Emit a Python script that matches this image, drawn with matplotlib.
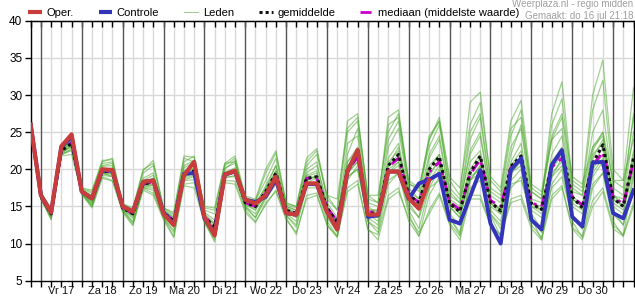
import numpy as np
import matplotlib.pyplot as plt
from matplotlib.lines import Line2D

plt.rcParams['font.family'] = ['Liberation Sans', 'DejaVu Sans']

# 6-hourly steps, step 0 = 16 jul 18:00, step 1 = 17 jul 00:00
days = ['Vr 17', 'Za 18', 'Zo 19', 'Ma 20', 'Di 21', 'Wo 22', 'Do 23',
        'Vr 24', 'Za 25', 'Zo 26', 'Ma 27', 'Di 28', 'Wo 29', 'Do 30']

oper = [26.0,
        16.5, 14.2, 23.1, 24.7,
        17.0, 16.1, 20.0, 19.9,
        15.0, 14.3, 18.3, 18.5,
        14.0, 12.5, 19.2, 21.0,
        13.6, 11.1, 19.3, 19.8,
        15.9, 15.4, 16.5, 19.0,
        14.1, 13.9, 18.1, 18.1,
        14.3, 11.9, 19.7, 22.6,
        13.9, 13.9, 19.7, 19.7,
        16.1, 14.7, 18.5]

controle = [26.0,
            16.5, 14.2, 23.0, 24.4,
            17.0, 16.1, 19.9, 19.8,
            15.0, 14.3, 18.3, 18.5,
            14.2, 12.6, 19.4, 19.5,
            13.4, 11.4, 19.3, 19.7,
            15.9, 15.6, 16.3, 18.6,
            14.1, 13.9, 18.0, 18.0,
            14.3, 12.0, 19.7, 22.5,
            13.6, 13.8, 19.7, 19.7,
            16.0, 18.1, 18.6, 19.4,
            13.2, 12.7, 16.3, 19.9,
            12.7, 10.0, 19.9, 21.5,
            13.2, 11.9, 20.6, 22.6,
            13.6, 12.3, 20.9, 21.0,
            14.1, 13.4, 17.2]

gemiddelde = [26.0,
              16.3, 14.0, 22.5, 23.5,
              17.0, 16.0, 19.7, 19.7,
              14.8, 14.0, 18.0, 18.3,
              14.2, 13.0, 19.3, 19.8,
              13.5, 12.3, 19.3, 19.8,
              15.5, 15.0, 17.0, 19.5,
              14.5, 14.0, 18.8, 19.0,
              14.8, 12.8, 20.0, 22.0,
              14.0, 14.2, 20.5, 22.0,
              16.5, 15.5, 20.0, 21.7,
              15.4, 14.3, 19.5, 21.8,
              15.6, 14.4, 20.4, 21.8,
              15.4, 14.6, 20.6, 22.4,
              16.3, 14.8, 20.8, 23.3,
              16.1, 15.0, 21.5]

mediaan = [26.0,
           16.3, 14.0, 22.6, 23.6,
           17.0, 16.0, 19.8, 19.6,
           14.8, 14.0, 18.0, 18.3,
           14.2, 13.1, 19.3, 19.7,
           13.6, 12.4, 19.4, 19.8,
           15.5, 15.0, 16.8, 19.3,
           14.5, 14.1, 18.8, 18.8,
           14.9, 13.0, 19.8, 21.6,
           14.2, 14.3, 20.3, 21.5,
           16.5, 15.6, 19.6, 21.0,
           15.6, 14.6, 19.3, 21.3,
           15.8, 15.0, 20.2, 21.2,
           15.5, 15.0, 20.3, 21.5,
           16.3, 15.2, 20.5, 22.3,
           16.3, 15.3, 21.0]

leden = [
    [26.5, 16.5, 14.2, 22.8, 24.0, 17.2, 16.5, 20.5, 20.8, 15.0, 14.2, 18.8, 19.5,
     14.5, 13.5, 20.2, 21.0, 14.0, 12.8, 20.0, 21.2, 15.8, 15.5, 17.5, 20.5,
     15.0, 14.5, 19.5, 20.5, 15.5, 13.5, 22.0, 25.5, 15.5, 15.0, 24.0, 26.5,
     17.5, 16.0, 22.0, 24.5, 16.5, 15.5, 24.0, 27.0, 17.0, 16.0, 23.0, 25.5,
     16.0, 15.5, 26.0, 29.5, 18.0, 17.0, 28.0, 32.0, 18.5, 17.5, 27.0],
    [25.8, 16.2, 13.2, 21.8, 22.0, 16.6, 14.8, 18.8, 18.4, 14.2, 12.4, 17.2, 16.5,
     13.2, 10.8, 17.8, 17.5, 12.8, 10.5, 18.2, 18.0, 14.2, 12.8, 15.5, 17.0,
     13.2, 11.5, 16.0, 16.5, 12.5, 11.0, 17.5, 18.5, 11.8, 11.2, 16.5, 17.5,
     13.0, 11.0, 14.5, 16.8, 12.8, 11.0, 16.5, 16.5, 12.5, 11.2, 16.0, 16.5,
     12.5, 10.8, 16.5, 17.8, 12.2, 11.0, 15.8, 17.5, 12.5, 11.2, 15.5],
    [26.2, 16.4, 14.0, 22.5, 23.5, 17.0, 16.0, 19.8, 19.8, 14.8, 14.0, 18.0, 18.5,
     14.2, 13.0, 19.5, 20.0, 13.5, 12.0, 19.5, 20.0, 15.5, 15.0, 17.2, 19.8,
     14.5, 14.0, 19.0, 19.5, 15.0, 13.0, 21.0, 22.5, 14.5, 14.5, 21.0, 22.5,
     16.8, 15.5, 20.5, 22.0, 15.5, 14.5, 20.0, 22.0, 15.8, 14.5, 20.5, 22.5,
     15.5, 15.0, 21.0, 23.0, 16.5, 15.0, 21.5, 24.0, 16.5, 15.5, 22.5],
    [27.3, 16.8, 14.8, 23.2, 24.8, 17.5, 17.2, 21.2, 21.3, 15.3, 14.6, 19.8, 21.2,
     14.8, 14.2, 21.8, 21.6, 14.8, 14.5, 20.8, 21.0, 16.2, 15.8, 19.5, 22.2,
     15.4, 15.0, 21.0, 22.5, 16.0, 14.5, 26.5, 27.5, 16.0, 15.5, 27.0, 28.0,
     18.2, 17.0, 24.5, 26.5, 18.5, 16.5, 29.0, 30.4, 18.5, 17.0, 25.5, 27.0,
     17.5, 16.5, 24.0, 25.5, 17.0, 16.5, 23.0, 24.5, 16.5, 16.0, 25.0],
    [25.6, 16.0, 13.5, 22.0, 22.5, 16.8, 15.2, 19.2, 19.0, 14.5, 12.8, 17.5, 17.2,
     13.5, 11.5, 18.5, 18.6, 13.0, 10.8, 19.0, 19.0, 14.8, 13.5, 16.0, 18.0,
     13.8, 12.2, 17.5, 17.5, 13.0, 11.0, 18.5, 20.5, 13.0, 11.5, 18.0, 19.5,
     14.0, 11.0, 16.5, 19.0, 13.5, 11.2, 18.5, 19.5, 13.8, 11.0, 17.5, 19.0,
     13.5, 10.5, 18.0, 20.0, 13.0, 10.8, 17.5, 19.5, 13.0, 11.0, 19.0],
    [26.0, 16.3, 14.1, 22.7, 23.9, 17.0, 16.2, 20.2, 20.0, 14.9, 14.1, 18.2, 18.8,
     14.3, 13.2, 19.8, 20.5, 13.8, 12.5, 19.2, 19.8, 15.6, 15.2, 17.0, 19.2,
     14.8, 14.2, 18.5, 19.2, 14.5, 12.5, 20.5, 22.0, 14.2, 13.5, 20.5, 23.0,
     16.0, 14.5, 21.5, 24.0, 16.0, 15.0, 22.5, 25.0, 16.5, 15.5, 22.0, 26.0,
     17.0, 16.0, 27.5, 31.8, 18.5, 17.5, 30.0, 34.7, 20.0, 18.5, 31.0],
    [25.9, 16.1, 13.8, 21.9, 22.8, 16.9, 15.6, 19.4, 19.2, 14.6, 13.6, 17.6, 17.8,
     13.8, 12.4, 18.8, 19.2, 13.2, 11.6, 19.5, 19.6, 15.2, 14.5, 16.8, 19.0,
     14.2, 13.5, 18.5, 19.0, 14.5, 12.0, 19.5, 21.0, 14.0, 13.0, 19.5, 21.0,
     15.5, 13.5, 19.5, 21.0, 15.0, 13.5, 18.5, 20.5, 14.5, 13.0, 19.5, 21.0,
     14.5, 13.5, 19.0, 21.5, 15.0, 14.0, 20.0, 22.0, 15.0, 14.0, 20.5],
    [26.8, 16.6, 14.5, 23.0, 24.5, 17.3, 16.8, 20.8, 21.0, 15.2, 14.4, 19.5, 20.5,
     14.6, 13.8, 21.0, 21.8, 14.5, 14.0, 20.5, 21.5, 16.0, 15.8, 18.5, 21.5,
     15.2, 14.8, 20.5, 22.0, 16.5, 14.5, 25.0, 26.5, 16.5, 15.5, 26.0, 27.0,
     18.0, 17.5, 23.0, 26.0, 17.5, 16.0, 25.0, 27.5, 17.5, 16.5, 24.5, 28.0,
     17.0, 16.0, 24.0, 27.0, 17.5, 16.5, 25.0, 28.0, 17.5, 16.5, 27.5],
    [26.1, 16.2, 13.9, 22.3, 23.2, 16.8, 15.0, 19.5, 19.4, 14.7, 13.8, 17.8, 18.0,
     14.0, 12.6, 18.6, 19.0, 13.4, 11.2, 18.8, 19.2, 15.0, 14.0, 16.2, 18.5,
     14.0, 13.0, 17.8, 18.2, 14.0, 12.2, 19.0, 20.0, 13.5, 12.5, 18.5, 19.5,
     15.0, 13.5, 17.5, 18.5, 14.0, 12.5, 17.5, 18.5, 14.0, 12.5, 18.0, 18.5,
     14.0, 12.0, 17.5, 19.0, 13.5, 12.0, 18.0, 19.5, 14.0, 12.5, 17.0],
    [26.4, 16.4, 14.4, 22.6, 23.8, 17.1, 16.4, 20.4, 20.5, 15.0, 14.3, 18.5, 19.2,
     14.4, 13.5, 20.5, 21.2, 14.2, 13.2, 20.2, 20.8, 15.8, 15.2, 17.8, 20.5,
     15.0, 14.5, 20.0, 21.0, 15.0, 13.0, 23.5, 24.5, 15.0, 14.0, 23.0, 25.5,
     17.0, 16.0, 24.0, 26.5, 17.0, 15.5, 22.0, 24.5, 16.0, 14.5, 21.0, 23.5,
     15.5, 14.5, 22.0, 24.5, 16.0, 15.0, 22.5, 25.0, 16.0, 15.0, 22.0],
    [26.0, 16.3, 14.0, 22.4, 23.4, 17.0, 15.8, 19.6, 19.6, 14.8, 13.9, 17.9, 18.2,
     14.1, 12.8, 19.2, 19.8, 13.6, 12.2, 19.2, 19.8, 15.5, 14.8, 17.0, 19.5,
     14.6, 13.8, 18.8, 19.0, 14.8, 12.8, 20.0, 22.0, 14.0, 14.0, 20.5, 22.0,
     16.5, 15.0, 19.0, 21.5, 15.5, 14.0, 19.5, 21.5, 15.5, 14.5, 20.5, 21.5,
     15.0, 14.5, 20.0, 22.0, 16.0, 15.0, 20.5, 23.0, 16.0, 15.0, 21.0],
    [25.7, 16.1, 13.6, 22.1, 22.6, 16.7, 15.0, 19.0, 18.5, 14.4, 12.6, 17.4, 16.8,
     13.4, 11.0, 18.0, 18.2, 13.0, 10.2, 18.5, 18.4, 14.5, 13.0, 15.2, 17.2,
     13.5, 11.2, 16.5, 16.8, 12.5, 10.8, 17.0, 18.0, 12.0, 10.5, 16.0, 17.0,
     13.5, 11.5, 14.0, 16.5, 12.5, 10.5, 16.0, 16.0, 12.5, 11.0, 15.5, 16.0,
     12.0, 10.5, 16.0, 17.5, 12.0, 10.5, 15.0, 17.0, 12.0, 11.0, 15.0],
    [26.6, 16.7, 14.6, 22.9, 24.2, 17.4, 17.0, 21.0, 21.5, 15.4, 14.8, 20.0, 20.8,
     14.8, 14.0, 21.5, 21.0, 15.0, 14.8, 20.8, 21.8, 16.4, 16.0, 20.0, 22.5,
     15.5, 15.0, 21.5, 22.8, 16.5, 16.0, 25.5, 27.0, 16.5, 16.5, 25.0, 27.5,
     18.5, 17.5, 24.0, 27.0, 19.0, 17.5, 26.0, 29.0, 19.0, 17.5, 26.5, 29.3,
     18.0, 17.0, 24.5, 27.5, 19.0, 18.0, 23.0, 25.0, 18.5, 18.5, 24.0],
    [26.2, 16.3, 13.9, 22.2, 23.0, 16.9, 15.5, 19.6, 19.5, 14.6, 13.4, 17.7, 17.9,
     13.8, 12.2, 19.0, 19.4, 13.5, 12.0, 19.0, 19.6, 15.3, 14.6, 16.6, 19.2,
     14.4, 13.6, 18.2, 18.8, 14.2, 12.5, 19.5, 21.0, 14.0, 13.5, 20.0, 21.0,
     16.0, 14.5, 18.5, 20.5, 15.0, 13.5, 19.0, 20.0, 15.0, 14.0, 19.5, 20.5,
     15.0, 14.0, 19.5, 21.0, 15.5, 14.5, 19.5, 21.5, 15.5, 14.5, 20.0],
    [25.9, 16.0, 13.3, 22.2, 23.1, 16.8, 15.4, 19.5, 19.0, 14.5, 13.0, 17.5, 17.5,
     13.5, 11.8, 19.0, 19.5, 13.0, 11.0, 19.2, 19.5, 15.0, 13.5, 16.5, 18.5,
     13.8, 12.5, 17.8, 18.5, 13.5, 11.5, 19.0, 20.0, 13.0, 12.0, 19.5, 20.5,
     14.5, 12.0, 17.5, 20.0, 13.5, 11.5, 18.5, 20.5, 14.0, 12.0, 18.5, 20.0,
     13.5, 11.5, 19.0, 20.5, 14.0, 12.0, 19.0, 21.0, 14.5, 12.5, 19.5],
    [26.3, 16.4, 14.1, 22.6, 23.6, 17.0, 16.0, 19.9, 20.2, 14.9, 14.0, 18.4, 18.6,
     14.2, 13.1, 19.6, 20.2, 13.8, 12.6, 19.6, 20.2, 15.6, 15.0, 17.4, 19.8,
     14.8, 14.0, 19.2, 19.8, 14.8, 13.0, 21.0, 23.0, 14.5, 14.5, 21.5, 23.5,
     16.5, 15.0, 20.0, 22.0, 15.5, 14.0, 21.0, 22.5, 15.5, 14.0, 20.5, 21.5,
     15.5, 14.5, 21.0, 22.5, 16.0, 15.0, 22.0, 23.5, 16.5, 15.0, 21.5],
]

steps = np.arange(len(gemiddelde))
day_starts = np.arange(1, len(steps), 4)
day_mids = day_starts[:len(days)] + 2

fig = plt.figure(figsize=(6.35, 3.0), dpi=100)
ax = fig.add_axes([30.7 / 635, 19.3 / 300, (633.5 - 30.7) / 635, (280.7 - 20.8) / 300])

# grid
for v in range(10, 40, 5):
    ax.axhline(v, color='#d9d9d9', lw=1, zorder=0)
for s in steps:
    if s in day_starts:
        ax.axvline(s, color='#555555', lw=1, zorder=0.5)
    else:
        ax.axvline(s, color='#d9d9d9', lw=1, zorder=0)

for m in leden:
    ax.plot(steps, m, color='#44a524', lw=0.9, alpha=0.5, zorder=2)

ax.plot(steps, mediaan, color='#cc00cc', lw=2, ls=(0, (4, 2, 1, 2)), zorder=3)
ax.plot(steps, gemiddelde, color='#111111', lw=2.2, ls=(0, (1, 1)), zorder=3.5)
ax.plot(steps, controle, color='#3333bb', lw=2.8, zorder=4)
ax.plot(steps[:len(oper)], oper, color='#c83c3c', lw=3, zorder=5)

ax.set_xlim(0, 58.8)
ax.set_ylim(5, 40)
ax.set_yticks(range(5, 41, 5))
ax.set_xticks(steps)
ax.set_xticklabels([])
ax.tick_params(axis='x', length=4, width=1, direction='out')
ax.tick_params(axis='y', length=4, width=1, labelsize=8.5, pad=2)

# day names centred on midday
for pos, name in zip(day_mids, days):
    ax.text(pos, -0.04, name, transform=ax.get_xaxis_transform(),
            ha='center', va='center', fontsize=8, color='#111111')

top = ax.secondary_xaxis('top')
top.set_xticks(steps)
top.set_xticklabels([])
top.tick_params(direction='in', length=4, width=1)

for sp in ax.spines.values():
    sp.set_color('black')
    sp.set_linewidth(1)

handles = [
    Line2D([], [], color='#c83c3c', lw=3, solid_capstyle='butt'),
    Line2D([], [], color='#3333bb', lw=3, solid_capstyle='butt'),
    Line2D([], [], color='#9fd08f', lw=0.8),
    Line2D([], [], color='#111111', lw=2.2, ls=(0, (1, 1))),
    Line2D([], [], color='#cc00cc', lw=2, ls=(0, (4, 2, 1, 2))),
]
labels = ['Oper.', 'Controle', 'Leden', 'gemiddelde', 'mediaan (middelste waarde)']
fig.legend(handles, labels, loc='center left', bbox_to_anchor=(0.044, 0.957), ncol=5,
           frameon=False, fontsize=8, handlelength=1.25, handletextpad=0.4,
           columnspacing=2.25, borderaxespad=0, borderpad=0)

fig.text(0.997, 0.987, 'Weerplaza.nl - regio midden', ha='right', va='center',
         color='#a0a0a0', fontsize=7)
fig.text(0.997, 0.948, 'Gemaakt: do 16 jul 21:18', ha='right', va='center',
         color='#a0a0a0', fontsize=7)

fig.savefig('out.png', dpi=100)
